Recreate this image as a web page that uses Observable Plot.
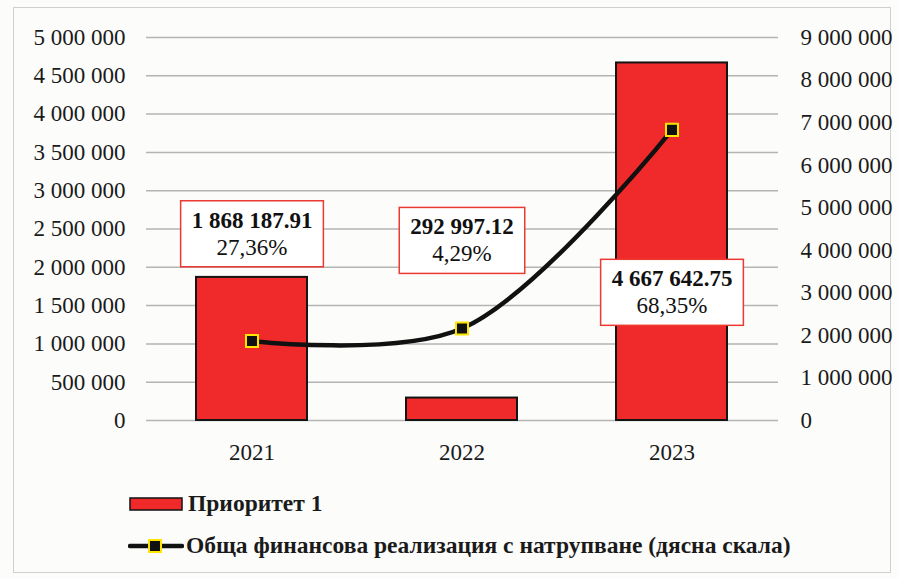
<!DOCTYPE html>
<html><head><meta charset="utf-8">
<script src="https://cdn.jsdelivr.net/npm/d3@7"></script>
<script src="https://cdn.jsdelivr.net/npm/@observablehq/plot@0.6"></script>
<style>
body{margin:0;background:#fcfcfa;font-family:'Liberation Serif',serif;}
#wrap{position:relative;width:898px;height:578px;overflow:hidden}
#frame{position:absolute;left:13px;top:7px;width:878px;height:566px;border:1.5px solid #cfcfcf;box-sizing:border-box}
#chart{position:absolute;left:0;top:0}
.leg{position:absolute;left:128px;display:flex;align-items:center;font-family:'Liberation Serif',serif;font-weight:bold;font-size:23.5px;color:#1a1a1a;white-space:nowrap}
svg text{font-family:'Liberation Serif',serif}
</style></head>
<body><div id="wrap"><div id="frame"></div><div id="chart"></div>
<div class="leg" style="top:490px"><svg width="56" height="22"><rect x="2" y="5" width="52" height="12" fill="#f02a2a" stroke="#111" stroke-width="1.5"/></svg><span id="leg1" style="margin-left:4px"></span></div>
<div class="leg" style="top:532px"><svg width="56" height="24"><line x1="2" y1="12" x2="54" y2="12" stroke="#111" stroke-width="4.5" stroke-linecap="round"/><rect x="21" y="6" width="12" height="12" fill="#111" stroke="#ffe600" stroke-width="2"/></svg><span id="leg2" style="margin-left:2px"></span></div>
</div>
<script>
const years = ["2021", "2022", "2023"];
const priority1 = [1868187.91, 292997.12, 4667642.75];
const shares = [27.36, 4.29, 68.35];
const cumulative = [1868187.91, 2161185.03, 6828827.78];
const leftTicks = [0, 500000, 1000000, 1500000, 2000000, 2500000, 3000000, 3500000, 4000000, 4500000, 5000000];
const rightTicks = [0, 1000000, 2000000, 3000000, 4000000, 5000000, 6000000, 7000000, 8000000, 9000000];
const seriesNames = ["Приоритет 1", "Обща финансова реализация с натрупване (дясна скала)"];

const leftMax = 5000000, rightMax = 9000000, k = leftMax / rightMax;
const fmtInt = v => d3.format(",")(v).replace(/,/g, " ");
const fmtDec = v => d3.format(",.2f")(v).replace(/,/g, " ");
const fmtPct = v => d3.format(".2f")(v).replace(".", ",") + "%";

const data = years.map((year, i) => ({year, value: priority1[i], share: shares[i], cumScaled: cumulative[i] * k}));

// label box vertical offsets (pixels, relative to bar top)
const shift = {"2021": -44, "2022": -158, "2023": 229};

const labelMarks = years.flatMap(y => {
  const sub = data.filter(d => d.year === y);
  return [
    Plot.text(sub, {x: "year", y: "value", text: d => fmtDec(d.value), dy: shift[y] - 13, fontWeight: "bold", fontSize: 23, fill: "#111"}),
    Plot.text(sub, {x: "year", y: "value", text: d => fmtPct(d.share), dy: shift[y] + 14, fontSize: 23, fill: "#111"})
  ];
});

const chart = Plot.plot({
  width: 898, height: 470,
  marginLeft: 146, marginRight: 120, marginTop: 37, marginBottom: 50,
  style: {fontFamily: "'Liberation Serif', serif", fontSize: "23px", color: "#1a1a1a", background: "transparent", overflow: "visible"},
  x: {domain: years, paddingInner: 0.47, paddingOuter: 0.235},
  y: {domain: [0, leftMax]},
  marks: [
    Plot.ruleY(leftTicks, {stroke: "#b4b4b4", strokeWidth: 1.5}),
    Plot.barY(data, {x: "year", y: "value", fill: "#f02a2a", stroke: "#141414", strokeWidth: 2}),
    Plot.axisY({ticks: leftTicks, tickSize: 0, tickPadding: 21, tickFormat: fmtInt, label: null}),
    Plot.axisY({anchor: "right", ticks: rightTicks.map(v => v * k), tickSize: 0, tickPadding: 22, tickFormat: v => fmtInt(Math.round(v / k)), label: null}),
    Plot.axisX({tickSize: 0, tickPadding: 23, label: null}),
    Plot.line(data, {x: "year", y: "cumScaled", curve: "catmull-rom", stroke: "#111", strokeWidth: 4.5}),
    Plot.dot(data, {x: "year", y: "cumScaled", symbol: "square", r: 6.8, fill: "#111", stroke: "#ffe600", strokeWidth: 2}),
    ...labelMarks
  ]
});
document.getElementById("chart").appendChild(chart);
document.getElementById("leg1").textContent = seriesNames[0];
document.getElementById("leg2").textContent = seriesNames[1];

// draw boxes behind the value labels
const svgRect = chart.getBoundingClientRect();
const groups = chart.querySelectorAll('g[aria-label="text"]');
for (let i = 0; i < years.length; i++) {
  const a = groups[2 * i].getBoundingClientRect(), b = groups[2 * i + 1].getBoundingClientRect();
  const x0 = Math.min(a.left, b.left) - svgRect.left, x1 = Math.max(a.right, b.right) - svgRect.left;
  const y0 = Math.min(a.top, b.top) - svgRect.top, y1 = Math.max(a.bottom, b.bottom) - svgRect.top;
  const padX = 11, padY = 7;
  const r = document.createElementNS("http://www.w3.org/2000/svg", "rect");
  r.setAttribute("x", x0 - padX); r.setAttribute("y", y0 - padY);
  r.setAttribute("width", x1 - x0 + 2 * padX); r.setAttribute("height", y1 - y0 + 2 * padY);
  r.setAttribute("fill", "#ffffff"); r.setAttribute("stroke", "#ec3a32"); r.setAttribute("stroke-width", 1.5);
  groups[2 * i].parentNode.insertBefore(r, groups[2 * i]);
}
</script>
</body></html>
